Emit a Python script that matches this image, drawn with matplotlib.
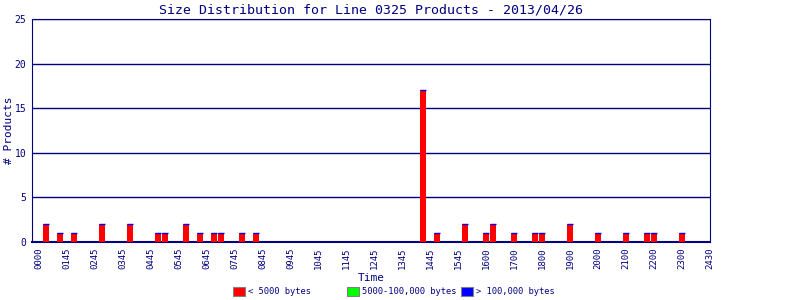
import numpy as np
import matplotlib
matplotlib.use("Agg")
import matplotlib.pyplot as plt
from matplotlib.patches import Rectangle

# 97 time bins along the x axis, label every 4th bin
time_labels = ["0000", "0145", "0245", "0345", "0445", "0545", "0645", "0745",
               "0845", "0945", "1045", "1145", "1245", "1345", "1445", "1545",
               "1600", "1700", "1800", "1900", "2000", "2100", "2200", "2300", "2430"]
n_bins = 97

# bins that have products, with counts per size class
bar_bins = [1, 3, 5, 9, 13, 17, 18, 21, 23, 25, 26, 29, 31,
            55, 57, 61, 64, 65, 68, 71, 72, 76, 80, 84, 87, 88, 92]
small_counts = [2, 1, 1, 2, 2, 1, 1, 2, 1, 1, 1, 1, 1,
                17, 1, 2, 1, 2, 1, 1, 1, 2, 1, 1, 1, 1, 1]
mid_counts = [0] * len(bar_bins)
large_counts = [0] * len(bar_bins)

legend_labels = ["< 5000 bytes", "5000-100,000 bytes", "> 100,000 bytes"]
colors = ["#ff0000", "#00ff00", "#0000ff"]
navy = "#000080"
font = "DejaVu Sans Mono"

small = np.array(small_counts)
mid = np.array(mid_counts)
large = np.array(large_counts)

fig = plt.figure(figsize=(8, 3), dpi=100)
ax = fig.add_axes([0.04, 0.1933, 0.8475, 0.7434])

w = 0.86
ax.bar(bar_bins, small, width=w, color=colors[0], linewidth=0, zorder=3)
ax.bar(bar_bins, mid, width=w, bottom=small, color=colors[1], linewidth=0, zorder=3)
ax.bar(bar_bins, large, width=w, bottom=small + mid, color=colors[2],
       edgecolor=colors[2], linewidth=1.0, zorder=4)

ax.set_xlim(-0.97, n_bins - 1.1)
ax.set_ylim(0, 25)
ax.set_yticks(range(0, 26, 5))
ax.yaxis.grid(True, color=navy, linewidth=1)
ax.set_axisbelow(True)
ax.set_xticks(np.arange(0, n_bins, 4))
ax.set_xticklabels(time_labels, rotation=90, fontsize=6.5, family=font, color=navy)
for lab in ax.get_yticklabels():
    lab.set_family(font)
    lab.set_fontsize(7)
    lab.set_color(navy)
ax.tick_params(length=0, pad=4)
for s in ax.spines.values():
    s.set_color(navy)
ax.spines["bottom"].set_linewidth(1.5)

ax.set_title("Size Distribution for Line 0325 Products - 2013/04/26",
             family=font, fontsize=9.5, color=navy, pad=4)
ax.set_xlabel("Time", family=font, fontsize=8, color=navy, labelpad=3)
ax.set_ylabel("# Products", family=font, fontsize=8, color=navy)
ax.yaxis.set_label_coords(-0.027, 0.5)

# legend along the bottom
for i, (lab, c) in enumerate(zip(legend_labels, colors)):
    x0 = (233 + 114 * i) / 800
    fig.patches.append(Rectangle((x0, 4 / 300), 12 / 800, 9 / 300,
                                 transform=fig.transFigure, facecolor=c,
                                 edgecolor="#808080", linewidth=0.8))
    fig.text(x0 + 15 / 800, 8.5 / 300, lab, family=font, fontsize=6.3,
             color=navy, va="center")

fig.savefig("out.png", dpi=100)
